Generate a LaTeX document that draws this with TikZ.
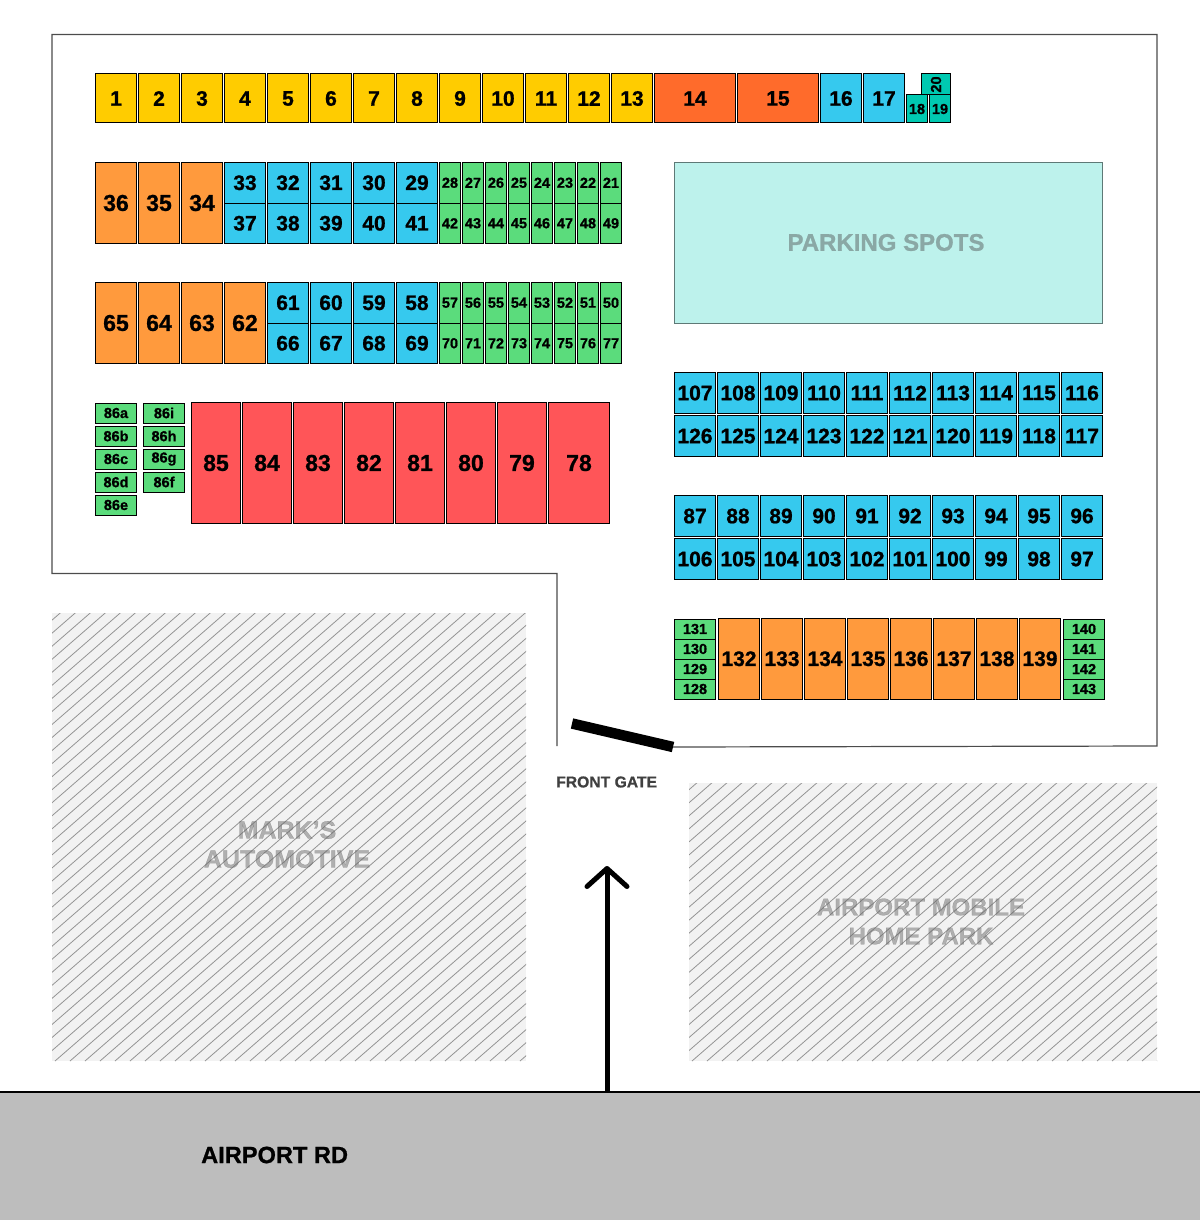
\documentclass[tikz,border=0pt]{standalone}
\usepackage{fontspec}
\setmainfont[BoldFeatures={FakeBold=0.9}]{Liberation Sans}
\usetikzlibrary{arrows.meta}

\definecolor{cyellow}{HTML}{FFCC00}
\definecolor{cflame}{HTML}{FF6B2B}
\definecolor{cblue}{HTML}{36C9EE}
\definecolor{cteal}{HTML}{00C9B1}
\definecolor{corange}{HTML}{FF9A3D}
\definecolor{cgreen}{HTML}{5BDC7C}
\definecolor{cred}{HTML}{FF5558}
\definecolor{cpark}{HTML}{BDF2EC}
\definecolor{croad}{HTML}{BDBDBD}
\definecolor{chatch}{HTML}{F2F2F2}

\tikzset{
  spot/.style n args={3}{draw=black, line width=1pt, inner sep=0pt, outer sep=0pt,
    anchor=north west, minimum width=#1pt, minimum height=#2pt, fill=#3, font=\bfseries\fontsize{21}{21}\selectfont},
  big/.style={font=\bfseries\fontsize{23}{23}\selectfont},
  small/.style={font=\bfseries\fontsize{14.5}{14.5}\selectfont},
  lotname/.style={text=black!60, text opacity=0.48, align=center, font=\bfseries\fontsize{24}{29}\selectfont},
}

% hatched lot: x1, y1, x2, y2
\newcommand{\hatchlot}[4]{
  \fill[chatch] (#1,#2) rectangle (#3,#4);
  \begin{scope}
    \clip (#1,#2) rectangle (#3,#4);
    \foreach \d in {0,15,...,1050}
      \draw[black!42, line width=0.8pt] (#1-552+\d,#4) -- (#1+\d,#4-480);
  \end{scope}
}

\begin{document}
\begin{tikzpicture}[x=1pt, y=-1pt]
    \useasboundingbox (0,0) rectangle (1200,1220);

    % Ground
    \fill[croad] (0,1092) rectangle (1200,1220);
    \draw[black, line width=1.5pt] (0,1092) -- (1200,1092);
    \hatchlot{52}{613}{526}{1061}
    \hatchlot{689}{783}{1157}{1061}

    % Yard outline
    \coordinate (gateL) at (572,723.5);
    \coordinate (gateR) at (673,747);
    \draw[black!70, line width=1.2pt] (557,746) -- (557,573.5) -- (52,573.5) -- (52,34.5) -- (1157,34.5) -- (1157,746) -- (gateR);
    \draw[black, line width=10.5pt] (gateL) -- (gateR);

    % Top row
    \foreach \n [count=\i from 0] in {1,...,13}
      \node[spot={41}{49}{cyellow}] (s\n) at ({95.5+43*\i},74) {\n};
    \node[spot={81}{49}{cflame}] (s14) at (654.5,74) {14};
    \node[spot={81}{49}{cflame}] (s15) at (737.5,74) {15};
    \node[spot={41}{49}{cblue}]  (s16) at (820.5,74) {16};
    \node[spot={41}{49}{cblue}]  (s17) at (863.5,74) {17};
    \node[spot={21}{28}{cteal}, small] (s18) at (906.5,95) {18};
    \node[spot={21}{28}{cteal}, small] (s19) at (929.5,95) {19};
    \node[spot={29}{21}{cteal}, small] (s20) at (921.5,74) {\rotatebox{90}{20}};

    % Second block
    \foreach \n [count=\i from 0] in {36,35,34}
      \node[spot={41}{81}{corange}, big] (s\n) at ({95.5+43*\i},162.5) {\n};
    \foreach \n [count=\i from 0] in {33,32,31,30,29}
      \node[spot={41}{40.5}{cblue}] (s\n) at ({224.5+43*\i},162.5) {\n};
    \foreach \n [count=\i from 0] in {37,38,39,40,41}
      \node[spot={41}{40.5}{cblue}] (s\n) at ({224.5+43*\i},203) {\n};
    \foreach \n [count=\i from 0] in {28,27,26,25,24,23,22,21}
      \node[spot={21}{40.5}{cgreen}, small] (s\n) at ({439.5+23*\i},162.5) {\n};
    \foreach \n [count=\i from 0] in {42,43,44,45,46,47,48,49}
      \node[spot={21}{40.5}{cgreen}, small] (s\n) at ({439.5+23*\i},203) {\n};

    % Third block
    \foreach \n [count=\i from 0] in {65,64,63,62}
      \node[spot={41}{81}{corange}, big] (s\n) at ({95.5+43*\i},282.5) {\n};
    \foreach \n [count=\i from 0] in {61,60,59,58}
      \node[spot={41}{40.5}{cblue}] (s\n) at ({267.5+43*\i},282.5) {\n};
    \foreach \n [count=\i from 0] in {66,67,68,69}
      \node[spot={41}{40.5}{cblue}] (s\n) at ({267.5+43*\i},323) {\n};
    \foreach \n [count=\i from 0] in {57,56,55,54,53,52,51,50}
      \node[spot={21}{40.5}{cgreen}, small] (s\n) at ({439.5+23*\i},282.5) {\n};
    \foreach \n [count=\i from 0] in {70,71,72,73,74,75,76,77}
      \node[spot={21}{40.5}{cgreen}, small] (s\n) at ({439.5+23*\i},323) {\n};

    % Fourth block
    \foreach \n [count=\i from 0] in {a,b,c,d,e}
      \node[spot={41}{20}{cgreen}, small] (s86\n) at (95.5,{403+23*\i}) {86\n};
    \foreach \n [count=\i from 0] in {i,h,g,f}
      \node[spot={41}{20}{cgreen}, small] (s86\n) at (143.5,{403+23*\i}) {86\n};
    \foreach \n [count=\i from 0] in {85,84,83,82,81,80,79}
      \node[spot={49}{121}{cred}, big] (s\n) at ({191.5+51*\i},402.5) {\n};
    \node[spot={61}{121}{cred}, big] (s78) at (548.5,402.5) {78};

    % Parking
    \node[draw=black!50!cpark, line width=1.2pt, fill=cpark, minimum width=428pt, minimum height=161pt, inner sep=0pt, outer sep=0pt, anchor=north west] (park) at (674.5,162.5) {};
    \node[text=black!25!cpark!75!gray, font=\bfseries\fontsize{24}{24}\selectfont] (parklabel) at (886,242.5) {PARKING SPOTS};

    % Right blocks
    \foreach \n [count=\i from 0] in {107,...,116}
      \node[spot={41}{41}{cblue}] (s\n) at ({674.5+43*\i},372.5) {\n};
    \foreach \n [count=\i from 0] in {126,125,...,117}
      \node[spot={41}{41}{cblue}] (s\n) at ({674.5+43*\i},415.5) {\n};
    \foreach \n [count=\i from 0] in {87,...,96}
      \node[spot={41}{41}{cblue}] (s\n) at ({674.5+43*\i},495.5) {\n};
    \foreach \n [count=\i from 0] in {106,105,...,97}
      \node[spot={41}{41}{cblue}] (s\n) at ({674.5+43*\i},538.5) {\n};

    % Bottom right block
    \foreach \n [count=\i from 0] in {131,130,129,128}
      \node[spot={41}{20}{cgreen}, small] (s\n) at (674.5,{619+20*\i}) {\n};
    \foreach \n [count=\i from 0] in {132,...,139}
      \node[spot={41}{80.5}{corange}] (s\n) at ({718.5+43*\i},618.5) {\n};
    \foreach \n [count=\i from 0] in {140,...,143}
      \node[spot={41}{20}{cgreen}, small] (s\n) at (1063.5,{619+20*\i}) {\n};

    % Labels
    \node[lotname, font=\bfseries\fontsize{25}{29}\selectfont] (marks) at (287,844.5) {MARK'S\\AUTOMOTIVE};
    \node[lotname] (home) at (921,921.5) {AIRPORT MOBILE\\HOME PARK};
    \node[anchor=west, inner sep=0pt, text=black!75, font=\bfseries\fontsize{15.7}{16}\selectfont] (gate) at (556,782) {FRONT GATE};
    \node[anchor=west, inner sep=0pt, font=\bfseries\fontsize{23.6}{24}\selectfont] (road) at (201,1155) {AIRPORT RD};

    % Entry arrow
    \coordinate (entry) at (607,1092);
    \coordinate (gatein) at (607,866);
    \draw[-{Straight Barb[round, length=18pt, width=40pt, line width=5pt]}, line width=5pt] (entry) -- (gatein);

\end{tikzpicture}
\end{document}
